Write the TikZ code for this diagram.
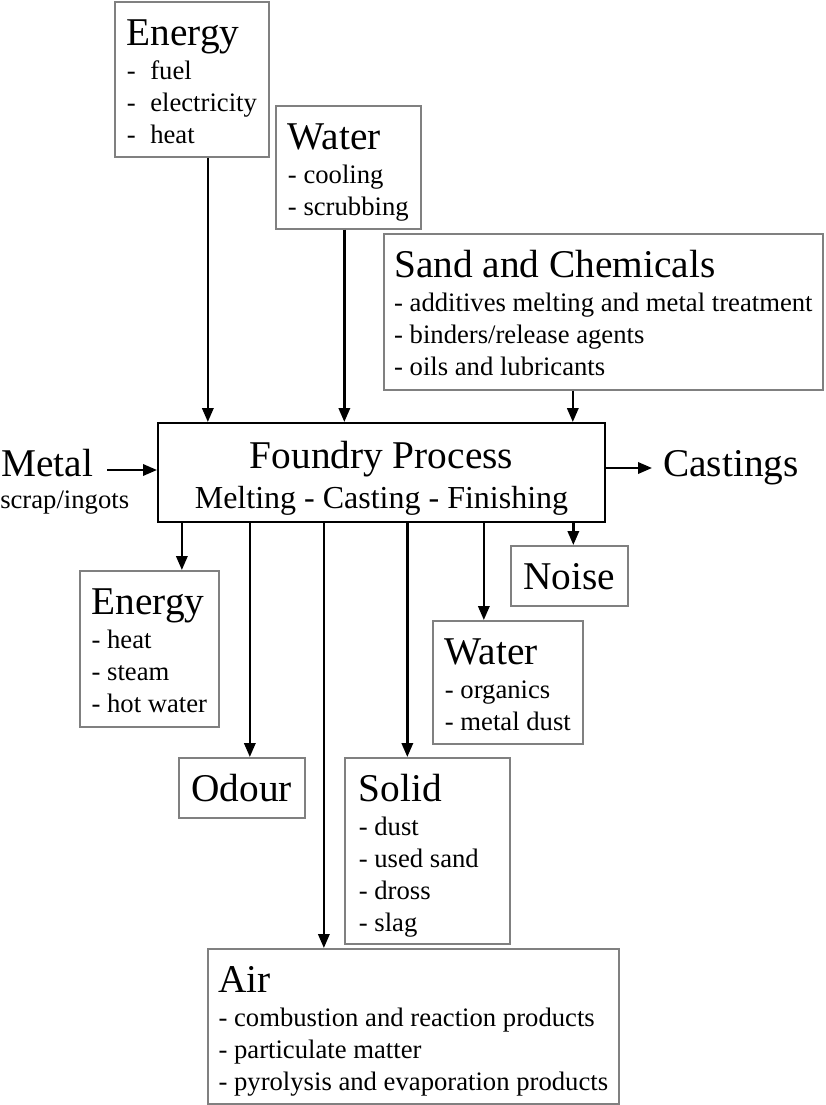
\documentclass[tikz,border=0pt]{standalone}
\usepackage{fontspec}
\setmainfont{Liberation Serif}
\usetikzlibrary{arrows.meta}

\definecolor{boxgray}{RGB}{128,128,128}

% heading inside a box
\newcommand{\hd}[1]{{\fontsize{29.5}{30}\selectfont #1}}

\tikzset{
  flowbox/.style n args={3}{draw=boxgray, line width=1.25pt, anchor=north west, align=left,
    inner ysep=0pt, minimum width={#1*0.75pt},
    text height={(44+32*#3)*0.75pt+(#3>0)*1pt}, text depth={(#2-44-32*#3)*0.75pt-(#3>0)*1pt},
    font=\fontsize{20}{24}\selectfont},
  procbox/.style={draw, line width=1.5pt, anchor=north west, align=center,
    inner ysep=0pt, minimum width=335.25pt, text height=63.75pt, text depth=10.5pt,
    font=\fontsize{24}{30}\selectfont},
  arr/.style={line width=1.8pt, -{Triangle[length=10.5pt,width=8.5pt]}},
}

\begin{document}
\begin{tikzpicture}[x=0.75pt,y=-0.75pt]
\useasboundingbox (0,0) rectangle (825,1105);

% inputs
\node[flowbox={154}{155}{3}] (enin) at (114,1) {\hd{Energy}\\[1pt] -\hspace{11pt}fuel\\ -\hspace{11pt}electricity\\ -\hspace{11pt}heat};
\node[flowbox={145}{123}{2}] (watin) at (275,105) {\hd{Water}\\[1pt] - cooling\\ - scrubbing};
\node[flowbox={439}{156}{3}] (sand) at (383,233) {\hd{Sand and Chemicals}\\[1pt] - additives melting and metal treatment\\ - binders/release agents\\ - oils and lubricants};

% process
\node[procbox] (proc) at (157,422) {\hd{Foundry Process}\\ Melting - Casting - Finishing};
\node[anchor=base west, inner sep=0pt, font=\fontsize{29.5}{30}\selectfont] (metal) at (1,476) {Metal};
\node[anchor=base west, inner sep=0pt, font=\fontsize{20}{24}\selectfont] (scrap) at (0,508) {scrap/ingots};
\node[anchor=base west, inner sep=0pt, font=\fontsize{29.5}{30}\selectfont] (castings) at (663,476) {Castings};

% outputs
\node[flowbox={139}{156}{3}] (enout) at (79,570) {\hd{Energy}\\[1pt] - heat\\ - steam\\ - hot water};
\node[flowbox={117}{60}{0}] (noise) at (510,545) {\hd{Noise}};
\node[flowbox={150}{123}{2}] (watout) at (432,620) {\hd{Water}\\[1pt] - organics\\ - metal dust};
\node[flowbox={126}{60}{0}] (odour) at (178,757) {\hd{Odour}};
\node[flowbox={165}{186}{4}, align=flush left, inner xsep=10.5pt, text width=102.75pt, text height=33pt, text depth=106.5pt] (solid) at (344,757) {\hd{Solid}\\[1pt] - dust\\ - used sand\\ - dross\\ - slag};
\node[flowbox={411}{155}{3}] (air) at (207,948) {\hd{Air}\\[1pt] - combustion and reaction products\\ - particulate matter\\ - pyrolysis and evaporation products};

% arrows in
\draw[arr] ([xshift=12pt]enin.south) -- ([xshift=12pt]enin.south |- proc.north);
\draw[arr] ([xshift=-3pt]watin.south) -- ([xshift=-3pt]watin.south |- proc.north);
\draw[arr] ([xshift=-22.9pt]sand.south) -- ([xshift=-22.9pt]sand.south |- proc.north);
\coordinate (metalin) at ([shift={(14,-6)}]metal.base east);
\draw[arr] (metalin) -- (metalin -| proc.west);

% arrows out
\coordinate (castout) at ([shift={(-11,-8)}]castings.base west);
\draw[arr] (castout -| proc.east) -- (castout);
\draw[arr] ([xshift=24.4pt]enout.north |- proc.south) -- ([xshift=24.4pt]enout.north);
\draw[arr] ([xshift=6pt]odour.north |- proc.south) -- ([xshift=6pt]odour.north);
\draw[arr] ([xshift=-67.1pt]air.north |- proc.south) -- ([xshift=-67.1pt]air.north);
\draw[arr] ([xshift=-15pt]solid.north |- proc.south) -- ([xshift=-15pt]solid.north);
\draw[arr] ([xshift=-18pt]watout.north |- proc.south) -- ([xshift=-18pt]watout.north);
\draw[arr] ([xshift=3pt]noise.north |- proc.south) -- ([xshift=3pt]noise.north);
\end{tikzpicture}
\end{document}
